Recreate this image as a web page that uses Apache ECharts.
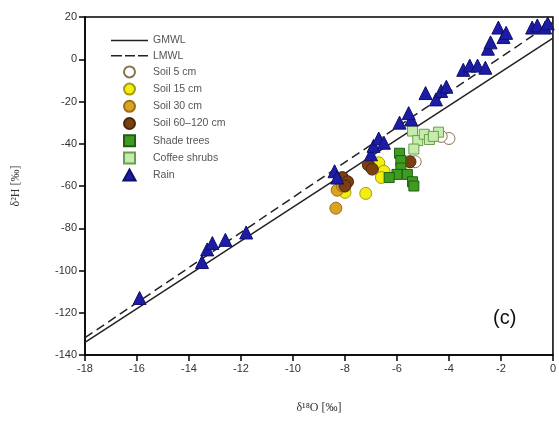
<!DOCTYPE html>
<html><head><meta charset="utf-8">
<script src="https://cdn.jsdelivr.net/npm/echarts@6/dist/echarts.min.js"></script>
<style>html,body{margin:0;padding:0;background:#fff}#c{width:559px;height:422px}</style>
</head><body><div id="c"></div>
<script>
// GMWL and LMWL endpoints (x range)
const lineX = [-18, 0];
const gmwlY = [-134, 10];
const lmwlY = [-131.8, 17.6];

const soil5 = [[-4.0,-37.5],[-4.3,-36.5],[-5.3,-48.5]];
const soil15 = [[-8.0,-63],[-7.2,-63.5],[-6.7,-49],[-6.5,-53],[-6.6,-56]];
const soil30 = [[-8.35,-70.5],[-8.3,-62],[-8.1,-60]];
const soil60 = [[-8.1,-56],[-7.9,-58],[-8.0,-60],[-7.1,-50],[-6.95,-52],[-5.5,-48.5]];
const shadeTrees = [[-5.9,-44.5],[-5.85,-48],[-5.85,-51.5],[-6.0,-54.5],[-6.3,-56],[-5.6,-54.5],[-5.4,-58],[-5.35,-60]];
const coffeeShrubs = [[-5.4,-34],[-5.2,-38.5],[-4.95,-35.5],[-4.75,-38],[-4.4,-34.5],[-5.35,-42.5],[-4.6,-36.5]];
const rain = [[-15.9,-113],[-13.5,-96],[-13.3,-90],[-13.1,-87],[-12.6,-85.5],[-11.8,-82],
  [-8.4,-53],[-8.3,-56],[-7.0,-45],[-6.9,-41],[-6.7,-37.5],[-6.5,-39.5],
  [-5.9,-30],[-5.45,-28.5],[-5.55,-25.5],[-4.9,-16],[-4.5,-19],[-4.3,-15],[-4.1,-13],
  [-3.45,-5],[-3.2,-3],[-2.9,-3],[-2.6,-4],[-2.5,5],[-2.4,8],[-2.1,15],[-1.9,10.5],[-1.8,12.5],
  [-0.8,15],[-0.6,16],[-0.3,15],[-0.2,17]];

const xTicks = {min:-18, max:0, step:2};
const yTicks = {min:-140, max:20, step:20};

const chart = echarts.init(document.getElementById('c'));
const pair = (xs, ys) => xs.map((x,i)=>[x, ys[i]]);
const sc = (name, data, symbol, size, fill, border) => ({
  name, type:'scatter', data, symbol, symbolSize:size,
  itemStyle:{color:fill, borderColor:border, borderWidth:1, opacity:1}
});
const icons = {
  solid:'path://M0,0H37V1.6H0Z',
  dashed:'path://M0,0H11V1.6H0Z M14,0H24V1.6H14Z M27,0H37V1.6H27Z',
  rect:'path://M0,0H10V10H0Z',
  tri:'path://M5.5,0L11,10L0,10Z'
};
chart.setOption({
  animation:false,
  grid:{left:85, right:4, top:17, bottom:67, show:true, borderColor:'#000', borderWidth:1.5, backgroundColor:'transparent'},
  xAxis:{type:'value', min:xTicks.min, max:xTicks.max, interval:xTicks.step,
    name:'δ¹⁸O [‰]', nameLocation:'middle', nameGap:47,
    nameTextStyle:{fontFamily:'Liberation Serif', fontSize:12, color:'#333'},
    axisLine:{onZero:false, lineStyle:{color:'#000', width:1.5}},
    axisTick:{inside:false, length:6, lineStyle:{color:'#000', width:1.5}},
    axisLabel:{fontFamily:'Liberation Sans', fontSize:11, color:'#333', margin:8},
    splitLine:{show:false}},
  yAxis:{type:'value', min:yTicks.min, max:yTicks.max, interval:yTicks.step,
    name:'δ²H [‰]', nameLocation:'middle', nameGap:63,
    nameTextStyle:{fontFamily:'Liberation Serif', fontSize:12, color:'#333'},
    axisLine:{onZero:false, lineStyle:{color:'#000', width:1.5}},
    axisTick:{inside:false, length:6, lineStyle:{color:'#000', width:1.5}},
    axisLabel:{fontFamily:'Liberation Sans', fontSize:11, color:'#333', margin:8},
    splitLine:{show:false}},
  legend:{orient:'vertical', left:106, top:30, itemWidth:37, itemHeight:11, itemGap:4.2,
    textStyle:{fontFamily:'Liberation Sans', fontSize:10.5, color:'#555'},
    data:[
      {name:'GMWL', icon:icons.solid},
      {name:'LMWL', icon:icons.dashed},
      {name:'Soil 5 cm', icon:'circle'},
      {name:'Soil 15 cm', icon:'circle'},
      {name:'Soil 30 cm', icon:'circle'},
      {name:'Soil 60–120 cm', icon:'circle'},
      {name:'Shade trees', icon:icons.rect},
      {name:'Coffee shrubs', icon:icons.rect},
      {name:'Rain', icon:icons.tri}
    ]},
  graphic:[{type:'text', left:493, top:308, style:{text:'(c)', fontFamily:'Liberation Sans', fontSize:20, fill:'#111'}}],
  series:[
    {name:'GMWL', type:'line', data:pair(lineX,gmwlY), symbol:'none', lineStyle:{color:'#222', width:1.5, type:'solid'}, itemStyle:{color:'#222'}, z:1},
    {name:'LMWL', type:'line', data:pair(lineX,lmwlY), symbol:'none', lineStyle:{color:'#222', width:1.5, type:[9,5]}, itemStyle:{color:'#222'}, z:1},
    sc('Soil 5 cm', soil5, 'circle', 12, '#ffffff', '#8a7350'),
    sc('Soil 15 cm', soil15, 'circle', 12, '#f2ee10', '#a89a10'),
    sc('Soil 30 cm', soil30, 'circle', 12, '#d9a324', '#a06f12'),
    sc('Soil 60–120 cm', soil60, 'circle', 12, '#7a4012', '#4d2608'),
    sc('Shade trees', shadeTrees, 'rect', 10, '#3f9b22', '#1f5f10'),
    sc('Coffee shrubs', coffeeShrubs, 'rect', 10, '#c6ecaa', '#6a9e50'),
    sc('Rain', rain, 'triangle', 13, '#1c1ca6', '#10106a')
  ]
});
</script></body></html>
